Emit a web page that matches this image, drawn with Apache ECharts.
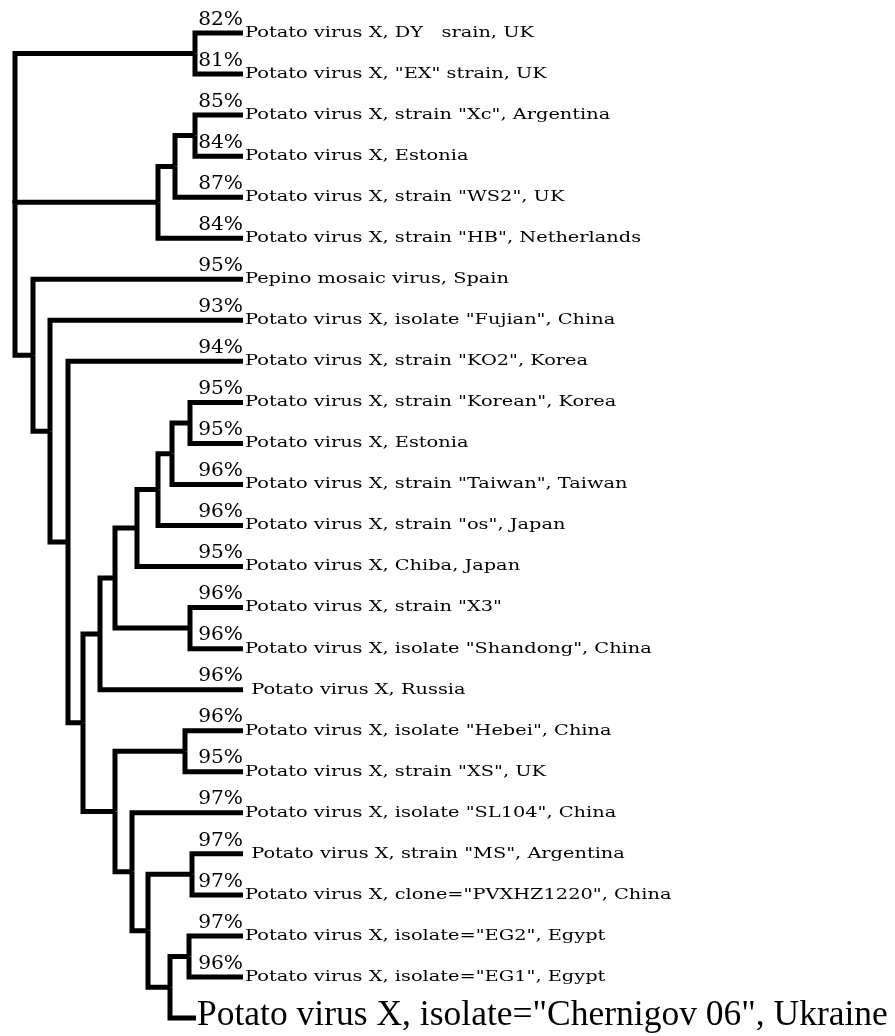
<!DOCTYPE html>
<html><head><meta charset="utf-8">
<script src="https://cdn.jsdelivr.net/npm/echarts@6/dist/echarts.min.js"></script>
<style>html,body{margin:0;padding:0;background:#fff}#c{width:895px;height:1036px}</style>
</head><body><div id="c"></div>
<script>
// Leaf labels (top to bottom)
const leafNames = [
  'Potato virus X, DY   srain, UK',
  'Potato virus X, "EX" strain, UK',
  'Potato virus X, strain "Xc", Argentina',
  'Potato virus X, Estonia',
  'Potato virus X, strain "WS2", UK',
  'Potato virus X, strain "HB", Netherlands',
  'Pepino mosaic virus, Spain',
  'Potato virus X, isolate "Fujian", China',
  'Potato virus X, strain "KO2", Korea',
  'Potato virus X, strain "Korean", Korea',
  'Potato virus X, Estonia',
  'Potato virus X, strain "Taiwan", Taiwan',
  'Potato virus X, strain "os", Japan',
  'Potato virus X, Chiba, Japan',
  'Potato virus X, strain "X3"',
  'Potato virus X, isolate "Shandong", China',
  ' Potato virus X, Russia',
  'Potato virus X, isolate "Hebei", China',
  'Potato virus X, strain "XS", UK',
  'Potato virus X, isolate "SL104", China',
  ' Potato virus X, strain "MS", Argentina',
  'Potato virus X, clone="PVXHZ1220", China',
  'Potato virus X, isolate="EG2", Egypt',
  'Potato virus X, isolate="EG1", Egypt',
  'Potato virus X, isolate="Chernigov 06", Ukraine'
];
// Identity percentages per leaf (null = none)
const leafPct = [82,81,85,84,87,84,95,93,94,95,95,96,96,95,96,96,96,96,95,97,97,97,97,96,null];
// Depth (distance from left) of each leaf tip
const leafDepth = [243,243,243,243,243,243,243,243,243,243,243,243,243,243,243,243,243,243,243,243,243,243,243,243,196];
// Internal nodes: depth and children (L = leaf index, N = node index)
const nodeDepth = [15,195,158,175,195,33,50,68,83,100,115,137,158,172,190,190,115,185,132,148,192,170,189];
const nodeKids = [
  ['N1','N2','N5'],
  ['L0','L1'],
  ['N3','L5'],
  ['N4','L4'],
  ['L2','L3'],
  ['L6','N6'],
  ['L7','N7'],
  ['L8','N8'],
  ['N9','N16'],
  ['N10','L16'],
  ['N11','N15'],
  ['N12','L13'],
  ['N13','L12'],
  ['N14','L11'],
  ['L9','L10'],
  ['L14','L15'],
  ['N17','N18'],
  ['L17','L18'],
  ['L19','N19'],
  ['N20','N21'],
  ['L20','L21'],
  ['N22','L24'],
  ['L22','L23']
];

function pid(s){ return {leaf: s[0] === 'L', i: +s.slice(1)}; }
const nodeY = [];
function yOf(id){
  const p = pid(id);
  if (p.leaf) return p.i;
  if (nodeY[p.i] !== undefined) return nodeY[p.i];
  const k = nodeKids[p.i];
  const v = (yOf(k[0]) + yOf(k[k.length - 1])) / 2;
  nodeY[p.i] = v;
  return v;
}
function xOf(id){ const p = pid(id); return p.leaf ? leafDepth[p.i] : nodeDepth[p.i]; }

const branches = [];
nodeKids.forEach((kids, n) => {
  const px = nodeDepth[n], py = yOf('N' + n);
  kids.forEach(k => branches.push([px, py, xOf(k), yOf(k)]));
});
const leaves = leafNames.map((nm, i) => [leafDepth[i], i]);

const chart = echarts.init(document.getElementById('c'), null, {renderer: 'canvas'});
chart.setOption({
  animation: false,
  backgroundColor: '#fff',
  grid: {left: 0, right: 0, top: 33, bottom: 18, containLabel: false},
  xAxis: {type: 'value', min: 0, max: 895, show: false},
  yAxis: {type: 'value', min: 0, max: 24, inverse: true, show: false},
  series: [
    {
      type: 'custom',
      data: branches,
      encode: {x: [0, 2], y: [1, 3]},
      silent: true,
      renderItem: function (params, api) {
        const a = api.coord([api.value(0), api.value(1)]);
        const b = api.coord([api.value(2), api.value(3)]);
        return {
          type: 'polyline',
          shape: {points: [a, [a[0], b[1]], b]},
          style: {stroke: '#000', lineWidth: 5, fill: null, lineJoin: 'miter', lineCap: 'butt'}
        };
      }
    },
    {
      type: 'custom',
      data: leaves,
      encode: {x: 0, y: 1},
      silent: true,
      renderItem: function (params, api) {
        const i = params.dataIndex;
        const p = api.coord([api.value(0), api.value(1)]);
        const big = leafPct[i] == null;
        const children = [{
          type: 'text',
          x: p[0] + (big ? 1 : 2),
          y: p[1] + (big ? -2 : 0),
          scaleX: big ? 1 : 1.29,
          style: {
            text: leafNames[i],
            fontFamily: big ? '"Liberation Serif"' : '"DejaVu Serif"',
            fontSize: big ? 35.5 : 15,
            fill: '#000',
            align: 'left',
            verticalAlign: 'middle'
          }
        }];
        if (!big) {
          children.push({
            type: 'text',
            x: p[0],
            y: p[1] - 4,
            scaleX: 1.12,
            style: {
              text: leafPct[i] + '%',
              fontFamily: '"DejaVu Serif"',
              fontSize: 18,
              fill: '#000',
              align: 'right',
              verticalAlign: 'bottom'
            }
          });
        }
        return {type: 'group', children: children};
      }
    }
  ]
});
</script>
</body></html>
